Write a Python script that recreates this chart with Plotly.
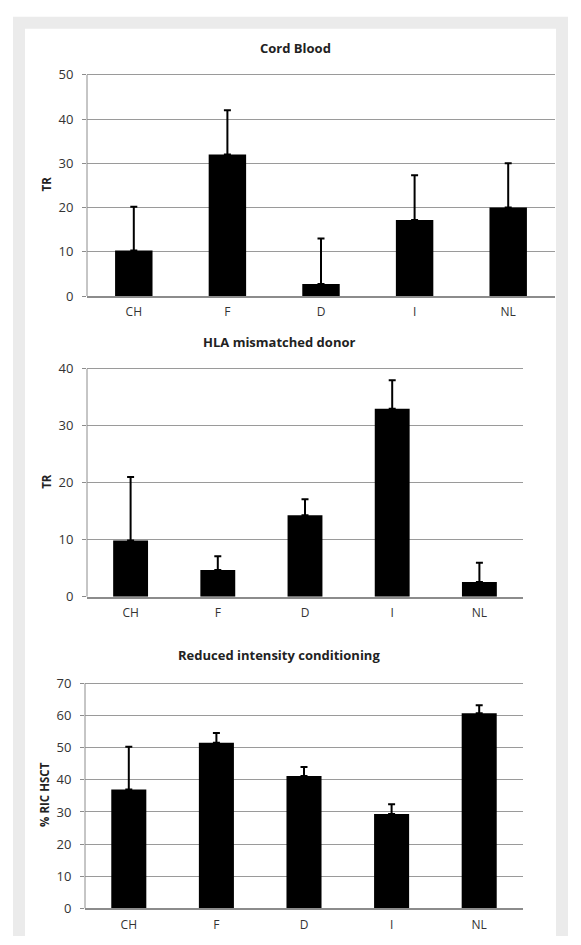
import plotly.graph_objects as go

W, H = 581, 945

categories = ["CH", "F", "D", "I", "NL"]

cord_blood_values = [10.3, 32.0, 2.7, 17.2, 20.0]
cord_blood_upper = [20.2, 42.0, 13.0, 27.3, 30.0]

hla_values = [9.9, 4.7, 14.3, 33.0, 2.6]
hla_upper = [21.0, 7.1, 17.1, 38.0, 6.0]

ric_values = [37.0, 51.5, 41.2, 29.4, 60.7]
ric_upper = [50.3, 54.6, 44.0, 32.4, 63.2]

titles = ["Cord Blood", "HLA mismatched donor", "Reduced intensity conditioning"]
y_titles = ["TR", "TR", "% RIC HSCT"]
y_max = [50, 40, 70]
y_dticks = [10, 10, 10]

# pixel geometry of panels: (x0, x1, ytop, ybottom)
panels = [(87, 555, 69, 294), (87, 523, 368, 600), (85, 523, 688, 917)]
title_y = [42, 341, 659]
title_x = [295, 279, 279]

FONT = "Open Sans, Lato, Liberation Sans, sans-serif"
PAD = 0.01  # headroom so the top gridline is drawn

fig = go.Figure()

series = [(cord_blood_values, cord_blood_upper), (hla_values, hla_upper), (ric_values, ric_upper)]

layout_axes = {}
annotations = []
for i, ((vals, upp), (x0, x1, yt, yb)) in enumerate(zip(series, panels)):
    n = i + 1
    xa = "x" if n == 1 else f"x{n}"
    ya = "y" if n == 1 else f"y{n}"
    fig.add_trace(go.Bar(
        x=categories, y=vals, xaxis=xa, yaxis=ya,
        marker=dict(color="black", line=dict(width=0)),
        width=0.4,
        error_y=dict(type="data", symmetric=False,
                     array=[u - v for u, v in zip(upp, vals)],
                     arrayminus=[0] * len(vals),
                     color="black", thickness=2, width=3.5),
        showlegend=False,
    ))
    xkey = "xaxis" if n == 1 else f"xaxis{n}"
    ykey = "yaxis" if n == 1 else f"yaxis{n}"
    layout_axes[xkey] = dict(
        domain=[x0 / W, x1 / W], anchor=ya,
        showgrid=False, showline=True, linecolor="#8c8c8c", linewidth=1.5,
        ticks="", tickfont=dict(family=FONT, size=12, color="#333"),
        ticklabelstandoff=4,
        fixedrange=True,
    )
    top = y_max[i]
    ytop_px = yt - (yb - yt) * PAD
    layout_axes[ykey] = dict(
        domain=[1 - yb / H, 1 - ytop_px / H], anchor=xa,
        range=[0, top * (1 + PAD)], dtick=y_dticks[i],
        showgrid=True, gridcolor="#9a9a9a", gridwidth=1,
        showline=False,
        ticks="outside", ticklen=4, tickcolor="#8c8c8c",
        tickfont=dict(family=FONT, size=13, color="#333"),
        ticklabelstandoff=6,
        zeroline=False,
        title=dict(text="<b>" + y_titles[i] + "</b>", font=dict(family=FONT, size=11.5, color="#222"), standoff=4),
        fixedrange=True,
    )
    annotations.append(dict(
        text="<b>" + titles[i] + "</b>", xref="paper", yref="paper",
        x=title_x[i] / W, y=1 - title_y[i] / H,
        xanchor="center", yanchor="middle", showarrow=False,
        font=dict(family=FONT, size=13, color="#222"),
    ))

shapes = [
    dict(type="rect", xref="paper", yref="paper", x0=13 / W, x1=568 / W, y0=0, y1=1 - 10 / H,
         fillcolor="#ebebeb", line=dict(width=0), layer="below"),
    dict(type="rect", xref="paper", yref="paper", x0=25 / W, x1=556 / W, y0=0, y1=1 - 22 / H,
         fillcolor="white", line=dict(width=0), layer="below"),
]
# vertical value-axis line from 0 to the top tick, in data coordinates
for i in range(3):
    n = i + 1
    xref = "x domain" if n == 1 else f"x{n} domain"
    yref = "y" if n == 1 else f"y{n}"
    shapes.append(dict(type="line", xref=xref, yref=yref, x0=0, x1=0, y0=0, y1=y_max[i],
                       line=dict(color="#8c8c8c", width=1)))

fig.update_layout(
    width=W, height=H, margin=dict(l=0, r=0, t=0, b=0),
    paper_bgcolor="white", plot_bgcolor="rgba(0,0,0,0)",
    bargap=0.6, annotations=annotations, shapes=shapes,
    **layout_axes,
)

fig.write_html("out.html", include_plotlyjs=True, config={"displayModeBar": False})
